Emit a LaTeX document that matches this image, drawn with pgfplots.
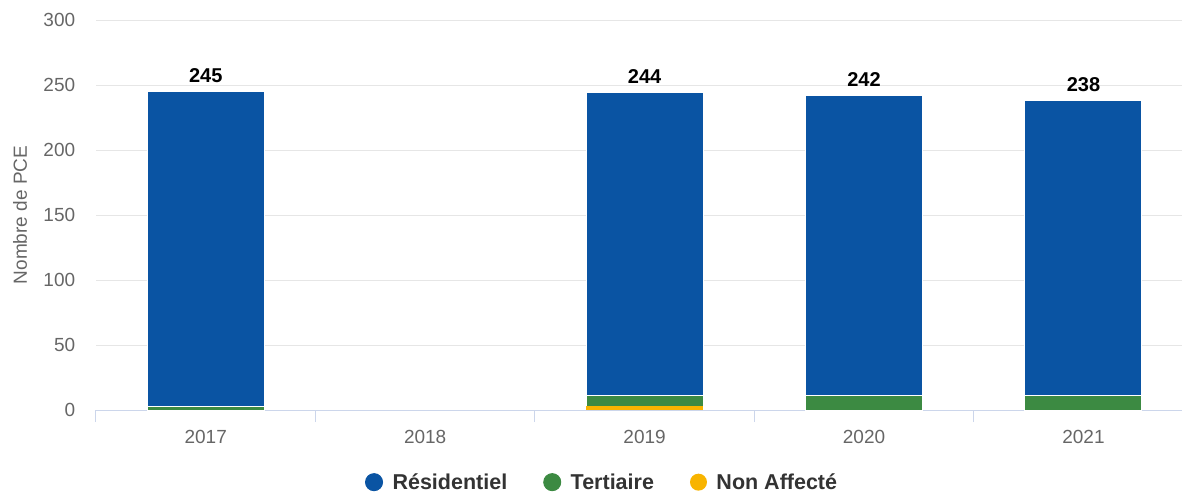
\documentclass[border=0pt]{standalone}
\usepackage{pgfplots}
\pgfplotsset{compat=1.18}
\usepackage{fontspec}
\setmainfont{Liberation Sans}
\definecolor{cRes}{HTML}{0A54A3}
\definecolor{cTer}{HTML}{3C8A42}
\definecolor{cNA}{HTML}{F8B400}
\definecolor{cGrid}{HTML}{E6E6E6}
\definecolor{cAxis}{HTML}{CCD6EB}
\definecolor{cTick}{HTML}{666666}
\definecolor{cLeg}{HTML}{333333}
\begin{document}
\begin{tikzpicture}
\useasboundingbox (0pt,0pt) rectangle (1182pt,493pt);
\begin{axis}[
  at={(96pt,83pt)}, anchor=south west,
  scale only axis, width=1086pt, height=390pt,
  xmin=-0.5, xmax=4.449, ymin=0, ymax=300,
  ybar stacked, bar width=117pt,
  xtick={0,1,2,3,4}, xticklabels={2017,2018,2019,2020,2021},
  minor xtick={-0.5,0.5,1.5,2.5,3.5},
  ytick={0,50,100,150,200,250,300},
  major x tick style={draw=none},
  minor x tick style={draw=cAxis, line width=1pt},
  minor tick length=12pt,
  tick align=outside,
  ytick style={draw=none},
  axis lines*=left,
  x axis line style={draw=cAxis, line width=1pt, -},
  y axis line style={draw=none},
  ymajorgrids, grid style={draw=cGrid, line width=1pt},
  /pgf/number format/assume math mode=true,
  tick label style={font=\fontsize{19}{22}\selectfont, text=cTick},
  xticklabel shift={12pt},
  yticklabel shift={13pt},
  ylabel={Nombre de PCE},
  ylabel style={font=\fontsize{19}{22}\selectfont, text=cTick, at={(axis description cs:-0.07,0.5)}, anchor=center},
  legend columns=3,
  reverse legend,
  legend style={at={(0.466,-0.185)}, anchor=center, draw=none, fill=none,
    font=\bfseries\fontsize{21.5}{25}\selectfont, text=cLeg,
    /tikz/every even column/.append style={column sep=34pt}},
  legend cell align=left,
]
\addplot+[fill=cNA, draw=none,
  legend image code/.code={\fill[cNA] (8pt,0pt) circle (8.5pt); \path (24pt,0pt);}]
  coordinates {(0,0) (2,3) (3,0) (4,0)};
\addlegendentry{Non Affecté}
\addplot+[fill=cTer, draw=white, line width=1pt,
  legend image code/.code={\fill[cTer] (8pt,0pt) circle (8.5pt); \path (24pt,0pt);}]
  coordinates {(0,3) (2,8) (3,11) (4,11)};
\addlegendentry{Tertiaire}
\addplot+[fill=cRes, draw=white, line width=1pt,
  legend image code/.code={\fill[cRes] (8pt,0pt) circle (8.5pt); \path (24pt,0pt);}]
  coordinates {(0,242) (2,233) (3,231) (4,227)};
\addlegendentry{Résidentiel}
\addplot+[draw=none, fill=none, forget plot,
  point meta=explicit symbolic,
  nodes near coords,
  every node near coord/.append style={font=\bfseries\fontsize{20}{24}\selectfont, text=black, anchor=south, inner sep=0pt, yshift=9pt}]
  table[meta=lab] {
x y lab
0 0.01 245
2 0.01 244
3 0.01 242
4 0.01 238
};
\end{axis}
\end{tikzpicture}
\end{document}
